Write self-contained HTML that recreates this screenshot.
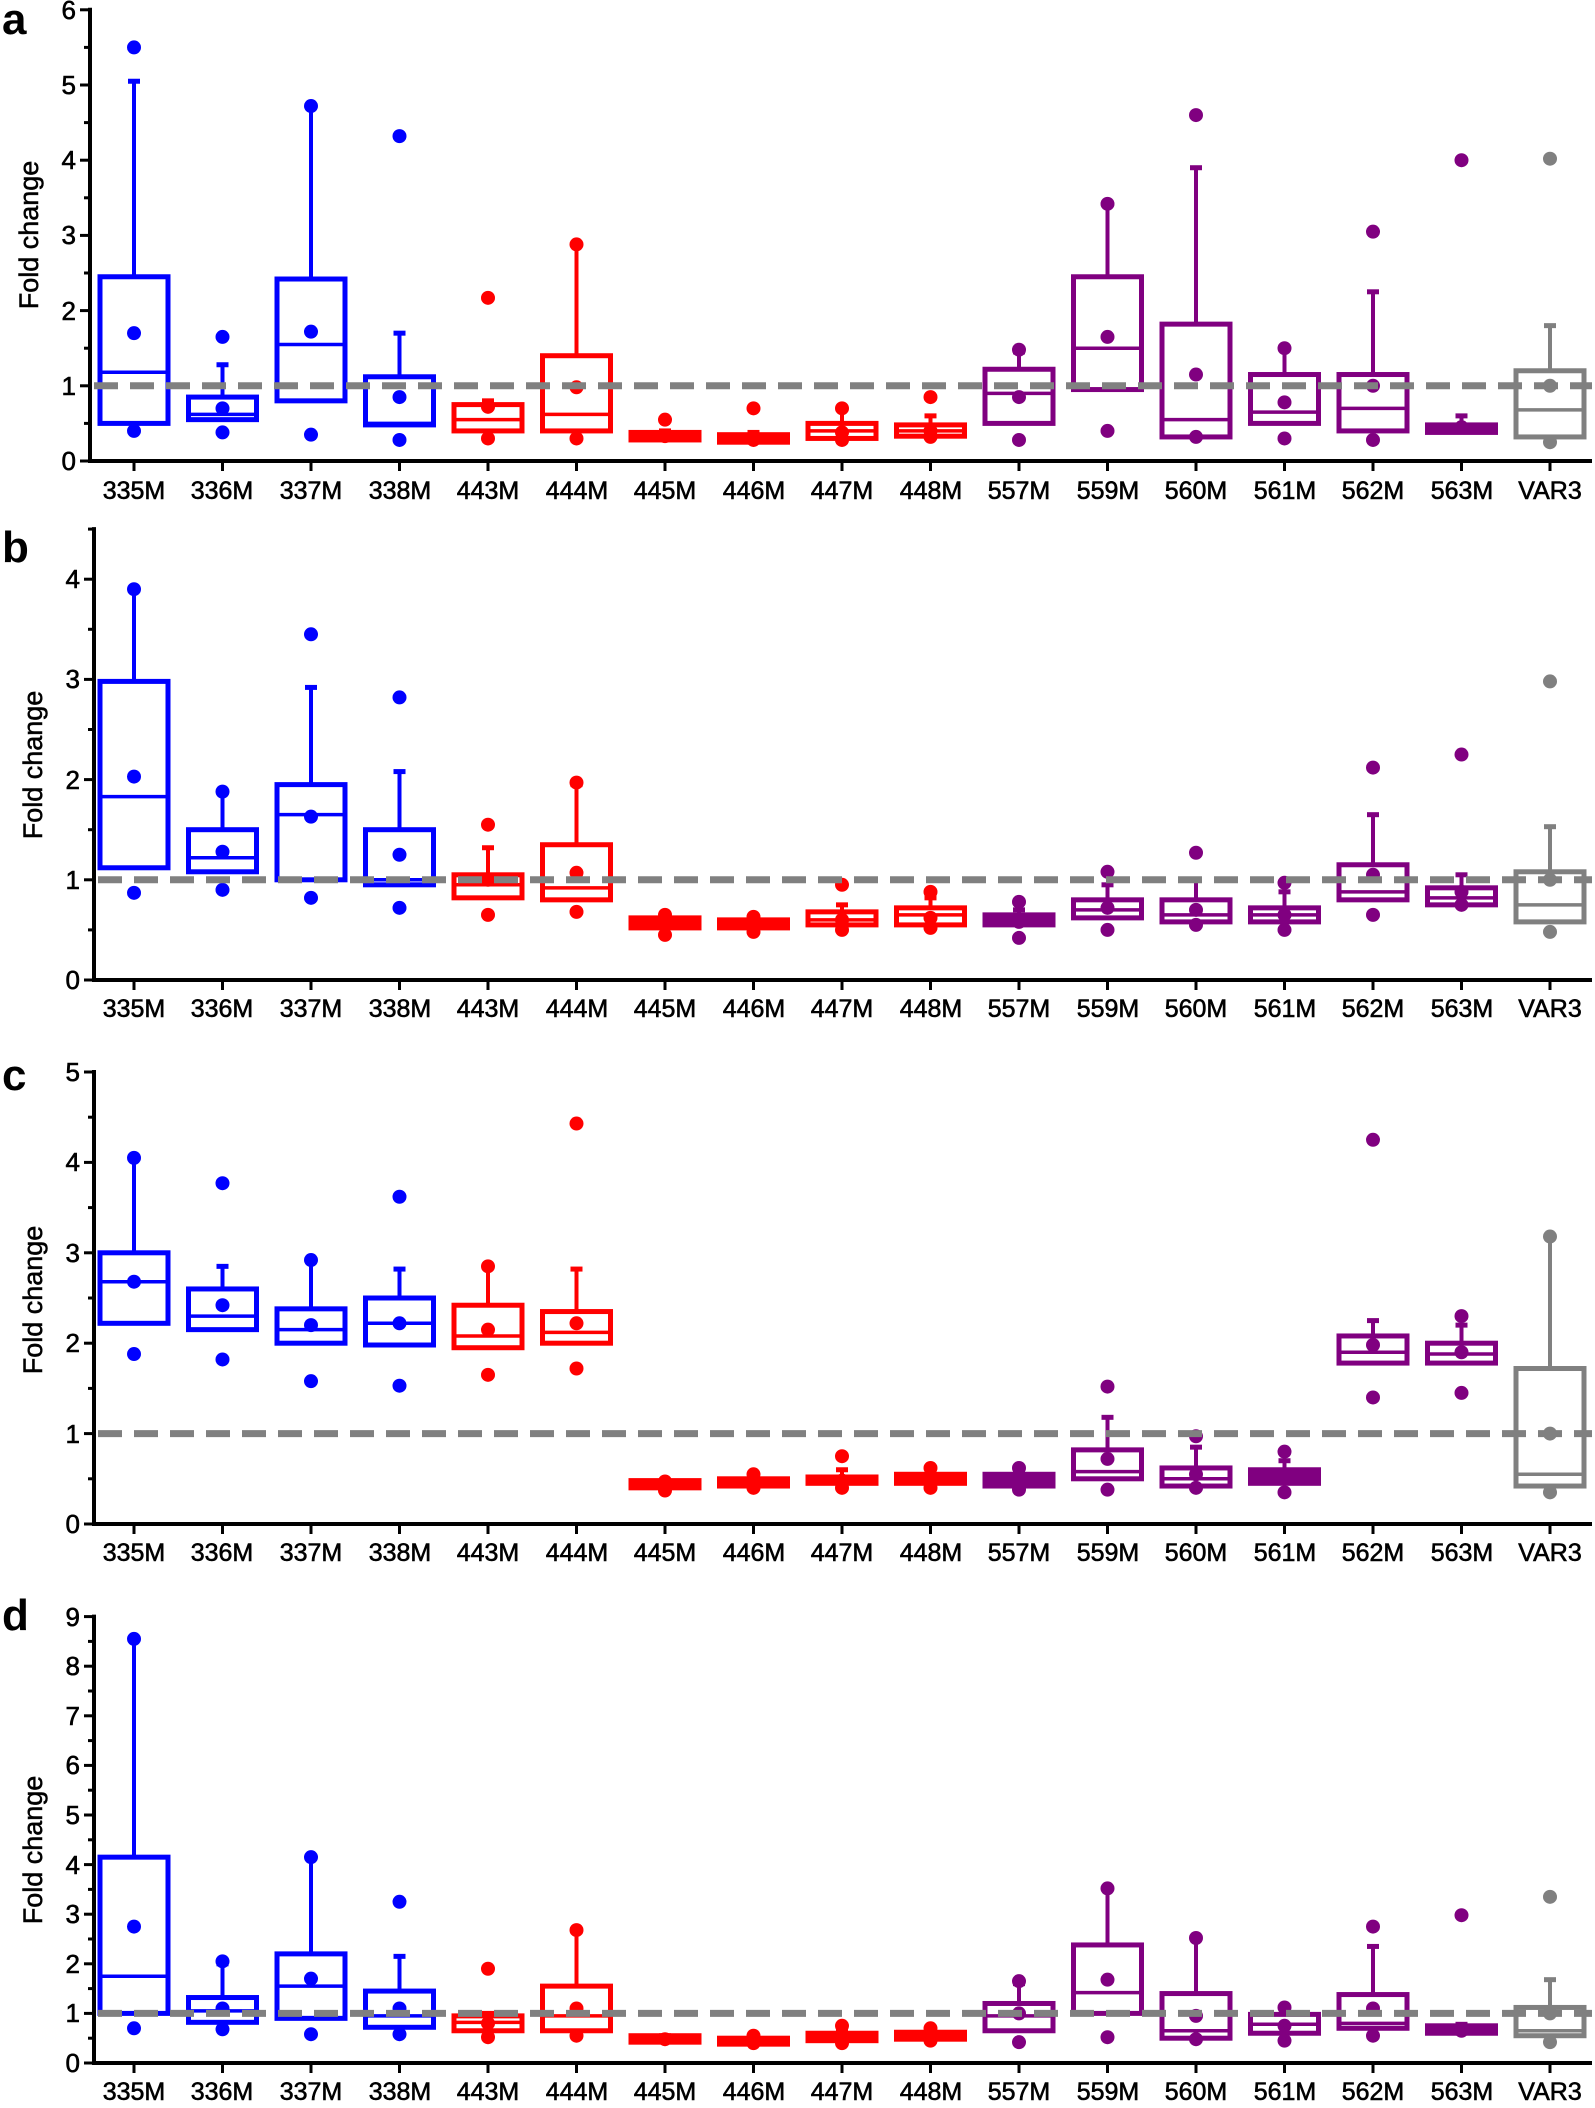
<!DOCTYPE html>
<html><head><meta charset="utf-8"><style>
html,body{margin:0;padding:0;background:#fff}
svg{display:block}
text{font-family:"Liberation Sans",Arial,sans-serif;fill:#000}
.xt{font-size:25px;text-anchor:middle;stroke:#000;stroke-width:0.6}
.yt{font-size:26px;text-anchor:end;stroke:#000;stroke-width:0.6}
.pl{font-size:44px;font-weight:bold}
.yl{font-size:27px;text-anchor:middle;stroke:#000;stroke-width:0.5}
</style></head><body>
<svg id="s" width="1595" height="2108" viewBox="0 0 1595 2108" xmlns="http://www.w3.org/2000/svg">
<g id="shapes"></g>
<text class="pl" x="2" y="34">a</text>
<text class="pl" x="2" y="562">b</text>
<text class="pl" x="2" y="1090">c</text>
<text class="pl" x="2" y="1630">d</text>
<text class="yl" transform="translate(38,235) rotate(-90)">Fold change</text>
<text class="yl" transform="translate(42,765) rotate(-90)">Fold change</text>
<text class="yl" transform="translate(42,1300) rotate(-90)">Fold change</text>
<text class="yl" transform="translate(42,1850) rotate(-90)">Fold change</text>
<g class="yt">
<text x="76" y="470">0</text><text x="76" y="395">1</text><text x="76" y="320">2</text><text x="76" y="244">3</text><text x="76" y="169">4</text><text x="76" y="94">5</text><text x="76" y="19">6</text>
<text x="80" y="989">0</text><text x="80" y="889">1</text><text x="80" y="789">2</text><text x="80" y="688">3</text><text x="80" y="588">4</text>
<text x="80" y="1533">0</text><text x="80" y="1443">1</text><text x="80" y="1352">2</text><text x="80" y="1262">3</text><text x="80" y="1171">4</text><text x="80" y="1081">5</text>
<text x="80" y="2072">0</text><text x="80" y="2022">1</text><text x="80" y="1973">2</text><text x="80" y="1923">3</text><text x="80" y="1874">4</text><text x="80" y="1824">5</text><text x="80" y="1774">6</text><text x="80" y="1725">7</text><text x="80" y="1675">8</text><text x="80" y="1626">9</text>
</g>
<g class="xt">
<text x="134" y="499">335M</text><text x="222" y="499">336M</text><text x="311" y="499">337M</text><text x="400" y="499">338M</text><text x="488" y="499">443M</text><text x="577" y="499">444M</text><text x="665" y="499">445M</text><text x="754" y="499">446M</text><text x="842" y="499">447M</text><text x="931" y="499">448M</text><text x="1019" y="499">557M</text><text x="1108" y="499">559M</text><text x="1196" y="499">560M</text><text x="1285" y="499">561M</text><text x="1373" y="499">562M</text><text x="1462" y="499">563M</text><text x="1550" y="499">VAR3</text>
<text x="134" y="1017">335M</text><text x="222" y="1017">336M</text><text x="311" y="1017">337M</text><text x="400" y="1017">338M</text><text x="488" y="1017">443M</text><text x="577" y="1017">444M</text><text x="665" y="1017">445M</text><text x="754" y="1017">446M</text><text x="842" y="1017">447M</text><text x="931" y="1017">448M</text><text x="1019" y="1017">557M</text><text x="1108" y="1017">559M</text><text x="1196" y="1017">560M</text><text x="1285" y="1017">561M</text><text x="1373" y="1017">562M</text><text x="1462" y="1017">563M</text><text x="1550" y="1017">VAR3</text>
<text x="134" y="1561">335M</text><text x="222" y="1561">336M</text><text x="311" y="1561">337M</text><text x="400" y="1561">338M</text><text x="488" y="1561">443M</text><text x="577" y="1561">444M</text><text x="665" y="1561">445M</text><text x="754" y="1561">446M</text><text x="842" y="1561">447M</text><text x="931" y="1561">448M</text><text x="1019" y="1561">557M</text><text x="1108" y="1561">559M</text><text x="1196" y="1561">560M</text><text x="1285" y="1561">561M</text><text x="1373" y="1561">562M</text><text x="1462" y="1561">563M</text><text x="1550" y="1561">VAR3</text>
<text x="134" y="2100">335M</text><text x="222" y="2100">336M</text><text x="311" y="2100">337M</text><text x="400" y="2100">338M</text><text x="488" y="2100">443M</text><text x="577" y="2100">444M</text><text x="665" y="2100">445M</text><text x="754" y="2100">446M</text><text x="842" y="2100">447M</text><text x="931" y="2100">448M</text><text x="1019" y="2100">557M</text><text x="1108" y="2100">559M</text><text x="1196" y="2100">560M</text><text x="1285" y="2100">561M</text><text x="1373" y="2100">562M</text><text x="1462" y="2100">563M</text><text x="1550" y="2100">VAR3</text>
</g>
</svg>
<script>
var C=['#0000ff','#0000ff','#0000ff','#0000ff','#ff0000','#ff0000','#ff0000','#ff0000','#ff0000','#ff0000','#800080','#800080','#800080','#800080','#800080','#800080','#808080'];
var P=[
{ax:90,y0:461,u:75.2,top:6,d:[
[0.5,1.18,2.45,5.05,5.5,1.7,0.4],[0.55,0.62,0.85,1.28,1.65,0.7,0.38],[0.8,1.55,2.42,4.72,4.72,1.72,0.35],[0.48,0.5,1.12,1.7,4.32,0.85,0.28],
[0.4,0.55,0.75,0.8,2.17,0.72,0.3],[0.4,0.62,1.4,2.88,2.88,0.98,0.3],[0.28,null,0.38,0.4,0.55,0.33],[0.25,null,0.35,0.38,0.7,0.28],
[0.3,0.4,0.5,0.7,0.7,0.38,0.28],[0.33,0.4,0.48,0.6,0.85,0.4,0.32],[0.5,0.9,1.22,1.45,1.48,0.85,0.28],[0.95,1.5,2.45,3.42,3.42,1.65,0.4],
[0.32,0.55,1.82,3.9,4.6,1.15,0.32],[0.5,0.65,1.15,1.5,1.5,0.78,0.3],[0.4,0.7,1.15,2.25,3.05,1.0,0.28],[0.38,null,0.48,0.6,4.0,0.45],[0.32,0.68,1.2,1.8,4.02,1.0,0.25]]},
{ax:94,y0:980,u:100.2,top:4.5,d:[
[1.12,1.83,2.98,3.9,3.9,2.03,0.87],[1.08,1.22,1.5,1.88,1.88,1.28,0.9],[1.0,1.65,1.95,2.92,3.45,1.63,0.82],[0.95,1.0,1.5,2.08,2.82,1.25,0.72],
[0.82,0.95,1.05,1.32,1.55,1.0,0.65],[0.8,0.92,1.35,1.95,1.97,1.07,0.68],[0.52,null,0.62,0.65,0.65,0.55,0.45],[0.52,null,0.6,0.63,0.63,0.55,0.48],
[0.55,0.6,0.68,0.75,0.95,0.6,0.5],[0.55,0.65,0.72,0.82,0.88,0.62,0.52],[0.55,null,0.65,0.7,0.78,0.58,0.42],[0.62,0.7,0.8,0.95,1.08,0.72,0.5],
[0.58,0.65,0.8,1.0,1.27,0.7,0.55],[0.58,0.65,0.72,0.88,0.97,0.65,0.5],[0.8,0.88,1.15,1.65,2.12,1.05,0.65],[0.75,0.82,0.92,1.05,2.25,0.88,0.75],[0.58,0.75,1.08,1.53,2.98,1.0,0.48]]},
{ax:94,y0:1524,u:90.4,top:5,d:[
[2.22,2.68,3.0,4.05,4.05,2.68,1.88],[2.15,2.3,2.6,2.85,3.77,2.42,1.82],[2.0,2.15,2.38,2.92,2.92,2.2,1.58],[1.98,2.22,2.5,2.82,3.62,2.22,1.53],
[1.95,2.08,2.42,2.85,2.85,2.15,1.65],[2.0,2.12,2.35,2.82,4.43,2.22,1.72],[0.4,null,0.48,0.48,0.47,0.42,0.37],[0.42,null,0.5,0.52,0.55,0.45,0.4],
[0.45,null,0.52,0.6,0.75,0.48,0.4],[0.45,null,0.55,0.58,0.62,0.5,0.4],[0.42,null,0.55,0.58,0.62,0.48,0.38],[0.5,0.58,0.82,1.18,1.52,0.72,0.38],
[0.42,0.5,0.62,0.85,0.97,0.55,0.4],[0.45,null,0.6,0.7,0.8,0.52,0.35],[1.78,1.9,2.08,2.25,4.25,1.98,1.4],[1.78,1.88,2.0,2.2,2.3,1.9,1.45],[0.42,0.55,1.72,3.18,3.18,1.0,0.35]]},
{ax:94,y0:2063,u:49.6,top:9,d:[
[1.0,1.75,4.15,8.55,8.55,2.75,0.7],[0.82,1.05,1.32,2.0,2.05,1.1,0.68],[0.9,1.55,2.2,4.15,4.15,1.7,0.58],[0.72,0.95,1.45,2.15,3.25,1.1,0.58],
[0.65,0.82,0.95,1.0,1.9,0.8,0.52],[0.65,0.95,1.55,2.65,2.68,1.1,0.55],[0.42,null,0.55,0.55,0.48],[0.38,null,0.5,0.52,0.55,0.4],
[0.45,null,0.6,0.65,0.75,0.5,0.4],[0.48,null,0.62,0.65,0.7,0.55,0.45],[0.65,0.95,1.2,1.6,1.65,1.0,0.42],[1.0,1.42,2.38,3.5,3.52,1.68,0.52],
[0.5,0.65,1.4,2.5,2.52,0.95,0.48],[0.6,0.78,0.98,1.12,1.12,0.75,0.45],[0.7,0.8,1.38,2.35,2.75,1.1,0.55],[0.6,null,0.75,0.78,2.98,0.65],[0.55,0.65,1.12,1.68,3.35,1.0,0.42]]}
];
var h='';
P.forEach(function(p){
 var Y=function(v){return p.y0-v*p.u};
 var yt=Y(p.top);
 h+='<line x1="'+p.ax+'" y1="'+(yt-2)+'" x2="'+p.ax+'" y2="'+(p.y0+2)+'" stroke="#000" stroke-width="4"/>';
 h+='<line x1="'+(p.ax-2)+'" y1="'+p.y0+'" x2="1592" y2="'+p.y0+'" stroke="#000" stroke-width="4"/>';
 for(var v=0;v<=p.top+0.001;v+=0.5){var y=Y(v);var L=(Math.abs(v-Math.round(v))<0.01)?10:6;
  h+='<line x1="'+(p.ax-L)+'" y1="'+y+'" x2="'+p.ax+'" y2="'+y+'" stroke="#000" stroke-width="3"/>';}
 p.d.forEach(function(b,i){
  var x=134+i*88.5,c=C[i],w=34;
  h+='<line x1="'+(x)+'" y1="'+Y(b[2])+'" x2="'+x+'" y2="'+Y(b[3])+'" stroke="'+c+'" stroke-width="4"/>';
  h+='<line x1="'+(x-6)+'" y1="'+Y(b[3])+'" x2="'+(x+6)+'" y2="'+Y(b[3])+'" stroke="'+c+'" stroke-width="5"/>';
  var fill=b[1]===null?c:'none';
  h+='<rect x="'+(x-w)+'" y="'+Y(b[2])+'" width="'+(2*w)+'" height="'+Math.max(1,Y(b[0])-Y(b[2]))+'" fill="'+fill+'" stroke="'+c+'" stroke-width="5"/>';
  if(b[1]!==null)h+='<line x1="'+(x-w)+'" y1="'+Y(b[1])+'" x2="'+(x+w)+'" y2="'+Y(b[1])+'" stroke="'+c+'" stroke-width="3.5"/>';
  for(var k=4;k<b.length;k++)h+='<circle cx="'+x+'" cy="'+Y(b[k])+'" r="7" fill="'+c+'"/>';
 });
 h+='<line x1="'+(p.ax+4)+'" y1="'+Y(1)+'" x2="1592" y2="'+Y(1)+'" stroke="#808080" stroke-width="7" stroke-dasharray="24,12"/>';
 for(var i=0;i<17;i++){var x=134+i*88.5;h+='<line x1="'+x+'" y1="'+p.y0+'" x2="'+x+'" y2="'+(p.y0+10)+'" stroke="#000" stroke-width="3"/>';}
});
document.getElementById('shapes').innerHTML=h;
</script>
</body></html>
